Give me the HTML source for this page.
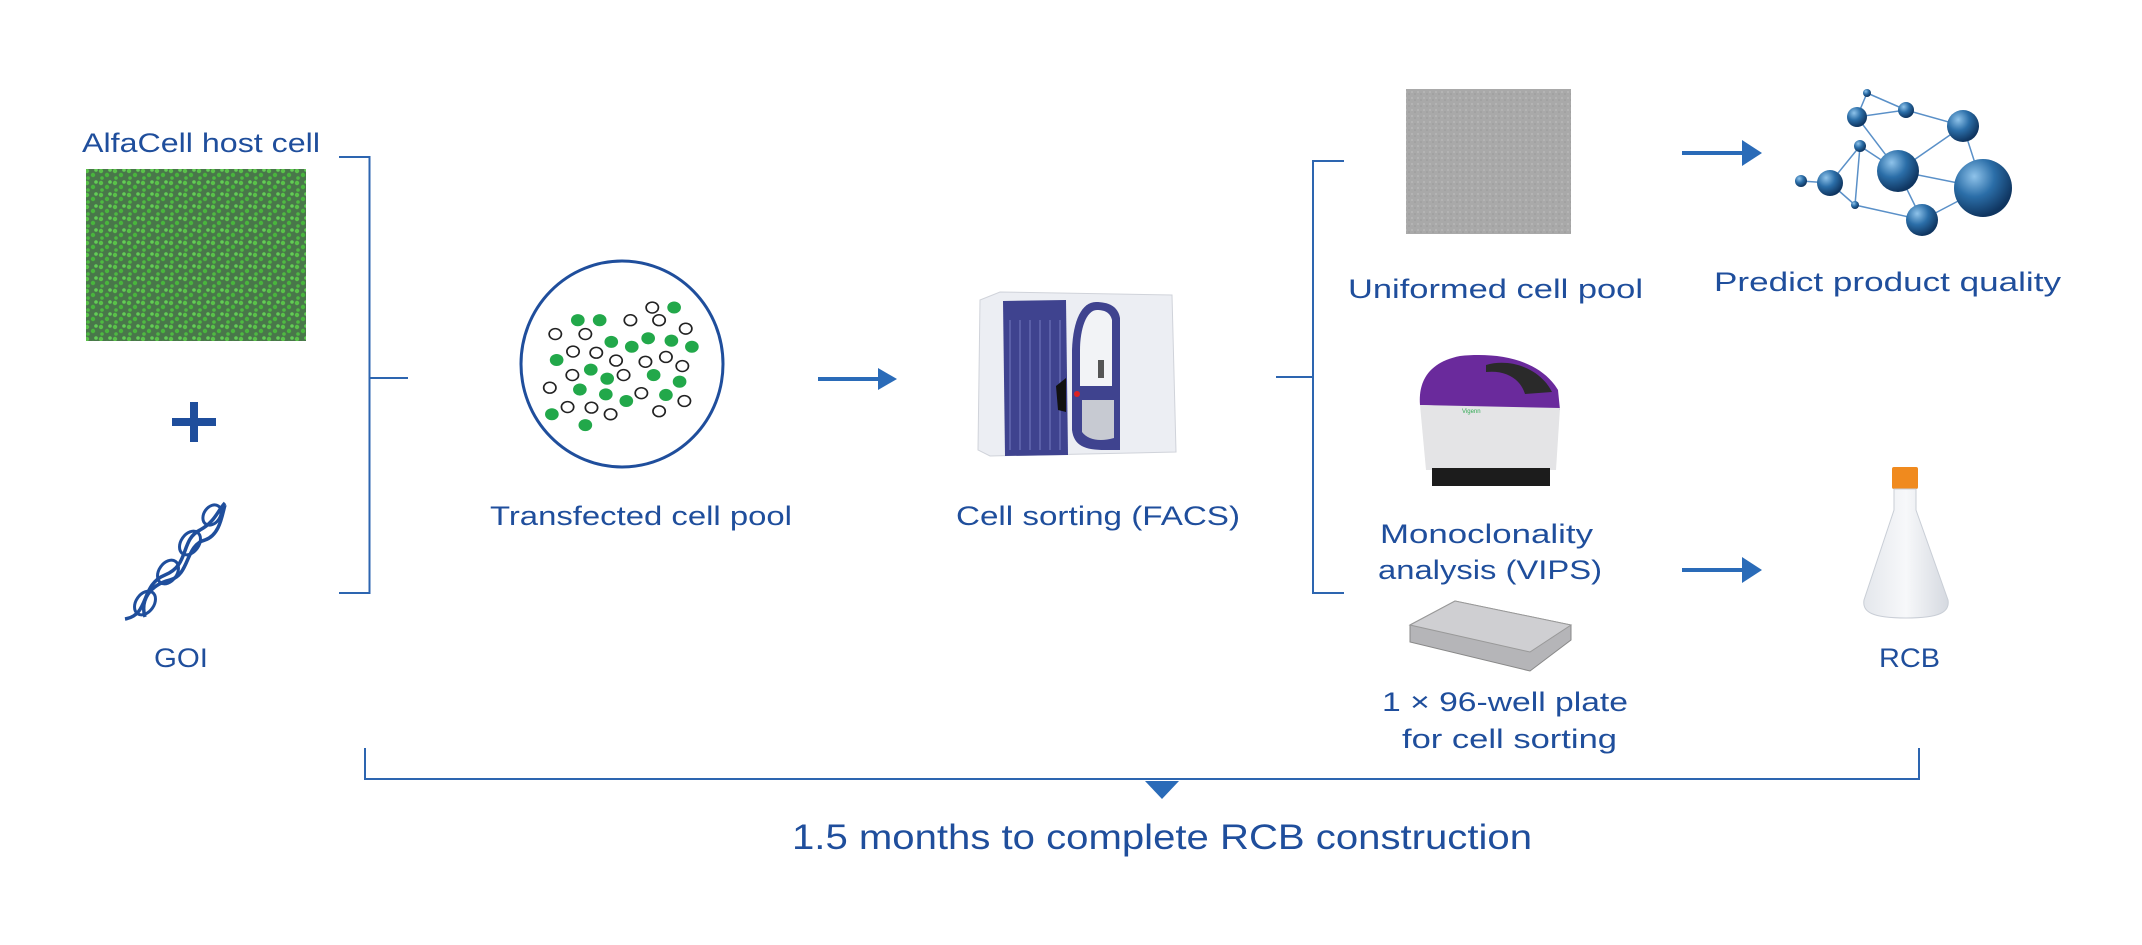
<!DOCTYPE html>
<html><head><meta charset="utf-8"><style>
html,body{margin:0;padding:0;background:#fff;}
svg{display:block}
text{font-family:"Liberation Sans",sans-serif;fill:#1f4e9c;}
</style></head><body>
<svg width="2142" height="945" viewBox="0 0 2142 945" xmlns="http://www.w3.org/2000/svg">
<defs>
<pattern id="gp" width="14" height="12" patternUnits="userSpaceOnUse">
<rect width="14" height="12" fill="#4c7a4c"/>
<circle cx="3" cy="3" r="2.2" fill="#5fd24a"/><circle cx="9" cy="7" r="2.2" fill="#4cc23c"/><circle cx="12" cy="2" r="1.8" fill="#6ae05a"/><circle cx="4" cy="10" r="1.8" fill="#52c842"/>
</pattern>
<pattern id="gray" width="6" height="6" patternUnits="userSpaceOnUse">
<rect width="6" height="6" fill="#a9a9a9"/><circle cx="2" cy="2" r="1" fill="#b8b8b8"/><circle cx="5" cy="4" r="0.8" fill="#999"/>
</pattern>
<radialGradient id="sph" cx="35%" cy="30%" r="70%"><stop offset="0" stop-color="#8fc3ea"/><stop offset="0.5" stop-color="#2b6ea8"/><stop offset="1" stop-color="#0f3560"/></radialGradient>
<linearGradient id="flask" x1="0" x2="1"><stop offset="0" stop-color="#e4e7ec"/><stop offset="0.5" stop-color="#f7f8fa"/><stop offset="1" stop-color="#d5d9e0"/></linearGradient>
</defs>

<!-- left column -->
<text x="82" y="152" font-size="27" textLength="238" lengthAdjust="spacingAndGlyphs">AlfaCell host cell</text>
<rect x="86" y="169" width="220" height="172" fill="url(#gp)"/>
<rect x="86" y="169" width="220" height="172" fill="#3c6a40" opacity="0.15"/>
<rect x="172" y="418" width="44" height="8" fill="#1f4e9c"/>
<rect x="190" y="402" width="8" height="40" fill="#1f4e9c"/>
<!-- DNA -->
<g stroke="#1f4e9c" stroke-width="3.5" fill="none">
<path d="M125,619 C150,615 140,585 165,575 C190,565 180,540 200,530 C215,522 218,510 225,503"/>
<path d="M145,617 C140,600 150,585 170,580 C190,575 185,545 205,540 C220,535 222,515 225,505"/>
</g>
<g fill="none" stroke="#1f4e9c" stroke-width="3">
<ellipse cx="145" cy="603" rx="13" ry="9" transform="rotate(-55 145 603)"/>
<ellipse cx="168" cy="572" rx="13" ry="9" transform="rotate(-55 168 572)"/>
<ellipse cx="190" cy="543" rx="13" ry="9" transform="rotate(-55 190 543)"/>
<ellipse cx="212" cy="515" rx="11" ry="8" transform="rotate(-55 212 515)"/>
</g>
<text x="154" y="667" font-size="27" textLength="54" lengthAdjust="spacingAndGlyphs">GOI</text>

<!-- bracket 1 -->
<g stroke="#2d65b0" stroke-width="2" fill="none">
<path d="M339,157 H369.5 V593 H339"/><path d="M369.5,378 H408"/>
</g>

<!-- transfected circle -->
<ellipse cx="622" cy="364" rx="101" ry="103" fill="#fff" stroke="#1f4e9c" stroke-width="3"/>
<g transform="scale(0.683,0.603)">
<g fill="#22a84a">
<circle cx="846" cy="531" r="10"/><circle cx="878" cy="531" r="10"/><circle cx="987" cy="510" r="10"/><circle cx="895" cy="567" r="10"/><circle cx="925" cy="575" r="10"/><circle cx="949" cy="561" r="10"/><circle cx="983" cy="565" r="10"/><circle cx="1013" cy="575" r="10"/><circle cx="815" cy="597" r="10"/><circle cx="865" cy="613" r="10"/><circle cx="889" cy="628" r="10"/><circle cx="957" cy="622" r="10"/><circle cx="995" cy="633" r="10"/><circle cx="849" cy="646" r="10"/><circle cx="887" cy="654" r="10"/><circle cx="917" cy="665" r="10"/><circle cx="975" cy="655" r="10"/><circle cx="808" cy="687" r="10"/><circle cx="857" cy="705" r="10"/>
</g>
<g fill="#fff" stroke="#222" stroke-width="2.5">
<circle cx="813" cy="554" r="9"/><circle cx="857" cy="554" r="9"/><circle cx="923" cy="531" r="9"/><circle cx="955" cy="510" r="9"/><circle cx="965" cy="531" r="9"/><circle cx="1004" cy="545" r="9"/><circle cx="839" cy="583" r="9"/><circle cx="873" cy="585" r="9"/><circle cx="902" cy="598" r="9"/><circle cx="945" cy="600" r="9"/><circle cx="975" cy="592" r="9"/><circle cx="999" cy="607" r="9"/><circle cx="838" cy="622" r="9"/><circle cx="913" cy="622" r="9"/><circle cx="805" cy="643" r="9"/><circle cx="939" cy="652" r="9"/><circle cx="831" cy="675" r="9"/><circle cx="866" cy="676" r="9"/><circle cx="894" cy="687" r="9"/><circle cx="965" cy="682" r="9"/><circle cx="1002" cy="665" r="9"/>
</g>
</g>
<text x="490" y="525" font-size="27" textLength="302" lengthAdjust="spacingAndGlyphs">Transfected cell pool</text>

<!-- arrow 1 -->
<path d="M818,379 H882" stroke="#2a6bb8" stroke-width="4"/>
<path d="M878,368 L897,379 L878,390 Z" fill="#2a6bb8"/>

<!-- FACS machine -->
<path d="M980,300 L1000,292 L1172,295 L1176,452 L990,456 L978,450 Z" fill="#eceef3" stroke="#d0d3da"/>
<path d="M1003,301 L1066,300 L1068,455 L1005,456 Z" fill="#3f438f"/>
<g stroke="#5a5fa8" stroke-width="2">
<path d="M1010,320 V450 M1020,320 V450 M1030,320 V450 M1040,320 V450 M1050,320 V450 M1060,320 V450"/>
</g>
<path d="M1066,378 L1056,386 L1058,410 L1066,412 Z" fill="#111"/>
<path d="M1096,302 C1082,302 1073,320 1072,350 V430 C1074,446 1085,450 1105,450 H1120 V318 C1118,306 1108,302 1096,302 Z" fill="#3f438f"/>
<path d="M1097,310 C1086,310 1080,330 1080,350 V386 H1112 V320 C1110,312 1104,310 1097,310 Z" fill="#f2f3f6"/>
<path d="M1082,400 H1114 V438 C1100,442 1088,440 1082,432 Z" fill="#c7cad2"/>
<rect x="1098" y="360" width="6" height="18" fill="#555"/>
<circle cx="1077" cy="394" r="3" fill="#d22"/>
<text x="956" y="525" font-size="27" textLength="284" lengthAdjust="spacingAndGlyphs">Cell sorting (FACS)</text>

<!-- bracket 2 -->
<g stroke="#2d65b0" stroke-width="2" fill="none">
<path d="M1344,161 H1313 V593 H1344"/><path d="M1276,377 H1313"/>
</g>

<!-- uniformed pool -->
<rect x="1406" y="89" width="165" height="145" fill="url(#gray)"/>
<text x="1348" y="298" font-size="27" textLength="295" lengthAdjust="spacingAndGlyphs">Uniformed cell pool</text>

<!-- arrow top -->
<path d="M1682,153 H1748" stroke="#2a6bb8" stroke-width="4"/>
<path d="M1742,140 L1762,153 L1742,166 Z" fill="#2a6bb8"/>

<!-- molecule -->
<g stroke="#5a90c8" stroke-width="1.5" fill="none">
<path d="M1867,93 L1857,117 L1906,110 L1963,126 L1898,171 L1857,117 M1867,93 L1906,110 M1860,146 L1898,171 L1983,188 L1963,126 M1860,146 L1830,183 L1801,181 M1830,183 L1855,205 L1922,220 L1983,188 M1898,171 L1922,220 M1860,146 L1855,205"/>
</g>
<circle cx="1867" cy="93" r="4" fill="url(#sph)"/>
<circle cx="1857" cy="117" r="10" fill="url(#sph)"/>
<circle cx="1906" cy="110" r="8" fill="url(#sph)"/>
<circle cx="1963" cy="126" r="16" fill="url(#sph)"/>
<circle cx="1860" cy="146" r="6" fill="url(#sph)"/>
<circle cx="1898" cy="171" r="21" fill="url(#sph)"/>
<circle cx="1983" cy="188" r="29" fill="url(#sph)"/>
<circle cx="1801" cy="181" r="6" fill="url(#sph)"/>
<circle cx="1830" cy="183" r="13" fill="url(#sph)"/>
<circle cx="1855" cy="205" r="4" fill="url(#sph)"/>
<circle cx="1922" cy="220" r="16" fill="url(#sph)"/>
<text x="1714" y="291" font-size="27" textLength="347" lengthAdjust="spacingAndGlyphs">Predict product quality</text>

<!-- VIPS machine -->
<path d="M1420,405 C1418,380 1430,362 1460,356 C1500,352 1540,360 1558,390 L1560,410 Z" fill="#6a2a9c"/>
<path d="M1486,365 C1510,358 1540,368 1552,392 L1525,394 C1520,378 1505,370 1486,372 Z" fill="#2a2a2a"/>
<path d="M1420,405 L1560,408 L1556,470 L1426,470 Z" fill="#e4e4e6"/>
<rect x="1432" y="468" width="118" height="18" fill="#1c1c1c"/>
<text x="1462" y="413" font-size="6" style="fill:#3a5">Vigenn</text>
<text x="1380" y="543" font-size="27" textLength="213" lengthAdjust="spacingAndGlyphs">Monoclonality</text>
<text x="1378" y="579" font-size="27" textLength="224" lengthAdjust="spacingAndGlyphs">analysis (VIPS)</text>

<!-- arrow bottom -->
<path d="M1682,570 H1748" stroke="#2a6bb8" stroke-width="4"/>
<path d="M1742,557 L1762,570 L1742,583 Z" fill="#2a6bb8"/>

<!-- plate -->
<path d="M1410,625 L1455,601 L1571,625 L1571,640 L1530,671 L1410,642 Z" fill="#b5b5b8" stroke="#888" stroke-width="1"/>
<path d="M1410,625 L1455,601 L1571,625 L1530,652 Z" fill="#cfcfd2" stroke="#999"/>
<text x="1382" y="711" font-size="27" textLength="246" lengthAdjust="spacingAndGlyphs">1 × 96-well plate</text>
<text x="1402" y="748" font-size="27" textLength="215" lengthAdjust="spacingAndGlyphs">for cell sorting</text>

<!-- flask -->
<rect x="1892" y="467" width="26" height="22" rx="2" fill="#f08a1e"/>
<path d="M1894,489 H1916 V510 L1948,600 C1950,612 1940,618 1906,618 C1872,618 1862,612 1864,600 L1894,510 Z" fill="url(#flask)" stroke="#c9ced6"/>
<text x="1879" y="667" font-size="27" textLength="61" lengthAdjust="spacingAndGlyphs">RCB</text>

<!-- bottom bracket -->
<path d="M365,748 V779 H1919 V748" stroke="#2d65b0" stroke-width="2" fill="none"/>
<path d="M1145,781 L1179,781 L1162,799 Z" fill="#2a6bb8"/>
<text x="792" y="849" font-size="35" textLength="740" lengthAdjust="spacingAndGlyphs">1.5 months to complete RCB construction</text>
</svg>
</body></html>
